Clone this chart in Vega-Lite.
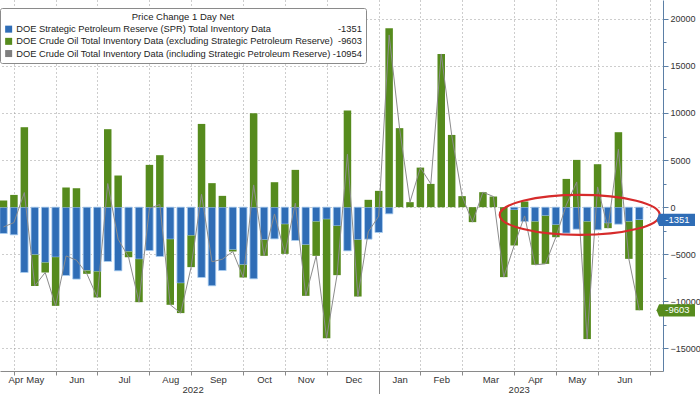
{
  "$schema": "https://vega.github.io/schema/vega-lite/v6.json",
  "width": 663,
  "height": 371,
  "autosize": {"type": "none"},
  "padding": {"left": 0, "top": 0, "right": 37, "bottom": 23},
  "background": "white",
  "config": {"view": {"stroke": null}, "font": "Liberation Sans"},
  "datasets": {
    "weeks": [
      {"date": "2022-04-22", "spr": -2800, "crude": 700, "total": -2100},
      {"date": "2022-04-29", "spr": -2940, "crude": 1300, "total": -1640},
      {"date": "2022-05-06", "spr": -6940, "crude": 8490, "total": 1550},
      {"date": "2022-05-13", "spr": -5060, "crude": -3300, "total": -8360},
      {"date": "2022-05-20", "spr": -5880, "crude": -1060, "total": -6940},
      {"date": "2022-05-27", "spr": -5310, "crude": -5170, "total": -10480},
      {"date": "2022-06-03", "spr": -7260, "crude": 2080, "total": -5180},
      {"date": "2022-06-10", "spr": -7640, "crude": 2010, "total": -5630},
      {"date": "2022-06-17", "spr": -6730, "crude": -350, "total": -7080},
      {"date": "2022-06-24", "spr": -6830, "crude": -2760, "total": -9590},
      {"date": "2022-07-01", "spr": -5770, "crude": 8280, "total": 2510},
      {"date": "2022-07-08", "spr": -6760, "crude": 3360, "total": -3400},
      {"date": "2022-07-15", "spr": -4710, "crude": -600, "total": -5310},
      {"date": "2022-07-22", "spr": -5520, "crude": -4570, "total": -10090},
      {"date": "2022-07-29", "spr": -4610, "crude": 4490, "total": -120},
      {"date": "2022-08-05", "spr": -5240, "crude": 5520, "total": 280},
      {"date": "2022-08-12", "spr": -3400, "crude": -6970, "total": -10370},
      {"date": "2022-08-19", "spr": -8070, "crude": -3180, "total": -11250},
      {"date": "2022-08-26", "spr": -3010, "crude": -3360, "total": -6370},
      {"date": "2022-09-02", "spr": -7470, "crude": 8840, "total": 1370},
      {"date": "2022-09-09", "spr": -8350, "crude": 2550, "total": -5800},
      {"date": "2022-09-16", "spr": -6730, "crude": 1200, "total": -5530},
      {"date": "2022-09-23", "spr": -4530, "crude": -180, "total": -4710},
      {"date": "2022-09-30", "spr": -6120, "crude": -1350, "total": -7470},
      {"date": "2022-10-07", "spr": -7610, "crude": 9970, "total": 2360},
      {"date": "2022-10-14", "spr": -3470, "crude": -1700, "total": -5170},
      {"date": "2022-10-21", "spr": -3370, "crude": 2650, "total": -720},
      {"date": "2022-10-28", "spr": -1810, "crude": -3150, "total": -4960},
      {"date": "2022-11-04", "spr": -3540, "crude": 3960, "total": 420},
      {"date": "2022-11-11", "spr": -4000, "crude": -5420, "total": -9420},
      {"date": "2022-11-18", "spr": -1530, "crude": -3640, "total": -5170},
      {"date": "2022-11-25", "spr": -1280, "crude": -12630, "total": -13910},
      {"date": "2022-12-02", "spr": -1990, "crude": -5230, "total": -7220},
      {"date": "2022-12-09", "spr": -4640, "crude": 10260, "total": 5620},
      {"date": "2022-12-16", "spr": -3470, "crude": -6020, "total": -9490},
      {"date": "2022-12-23", "spr": -3400, "crude": 780, "total": -2620},
      {"date": "2022-12-30", "spr": -2690, "crude": 1730, "total": -960},
      {"date": "2023-01-06", "spr": -710, "crude": 19000, "total": 18290},
      {"date": "2023-01-13", "spr": 0, "crude": 8390, "total": 8390},
      {"date": "2023-01-20", "spr": 0, "crude": 530, "total": 530},
      {"date": "2023-01-27", "spr": 0, "crude": 4200, "total": 4200},
      {"date": "2023-02-03", "spr": 0, "crude": 2470, "total": 2470},
      {"date": "2023-02-10", "spr": 0, "crude": 16270, "total": 16270},
      {"date": "2023-02-17", "spr": 0, "crude": 7670, "total": 7670},
      {"date": "2023-02-24", "spr": 0, "crude": 1170, "total": 1170},
      {"date": "2023-03-03", "spr": 0, "crude": -1590, "total": -1590},
      {"date": "2023-03-10", "spr": 0, "crude": 1590, "total": 1590},
      {"date": "2023-03-17", "spr": 0, "crude": 1130, "total": 1130},
      {"date": "2023-03-24", "spr": 0, "crude": -7430, "total": -7430},
      {"date": "2023-03-31", "spr": -300, "crude": -3770, "total": -4070},
      {"date": "2023-04-07", "spr": -1530, "crude": 600, "total": -930},
      {"date": "2023-04-14", "spr": -1530, "crude": -4590, "total": -6120},
      {"date": "2023-04-21", "spr": -920, "crude": -5100, "total": -6020},
      {"date": "2023-04-28", "spr": -1880, "crude": -1310, "total": -3190},
      {"date": "2023-05-05", "spr": -2760, "crude": 3000, "total": 240},
      {"date": "2023-05-12", "spr": -2340, "crude": 5020, "total": 2680},
      {"date": "2023-05-19", "spr": -1530, "crude": -12480, "total": -14010},
      {"date": "2023-05-26", "spr": -2410, "crude": 4560, "total": 2150},
      {"date": "2023-06-02", "spr": -1700, "crude": -530, "total": -2230},
      {"date": "2023-06-09", "spr": -1810, "crude": 7960, "total": 6150},
      {"date": "2023-06-16", "spr": -1530, "crude": -3960, "total": -5490},
      {"date": "2023-06-23", "spr": -1351, "crude": -9603, "total": -10954}
    ],
    "tags": [
      {"date": "2023-07-18", "value": -1351, "label": "-1351", "series": "spr"},
      {"date": "2023-07-18", "value": -10954, "label": "-9603", "series": "crude"}
    ],
    "circle": [
      {"date": "2023-05-14", "value": -820}
    ]
  },
  "layer": [
    {
      "data": {"name": "weeks"},
      "transform": [{"fold": ["spr", "crude"], "as": ["series", "value"]}],
      "mark": {"type": "bar", "size": 7.5, "clip": true, "strokeWidth": 0.8},
      "encoding": {
        "x": {
          "field": "date", "type": "temporal",
          "scale": {"type": "utc", "domain": [{"year": 2022, "month": 4, "date": 23, "utc": true}, {"year": 2023, "month": 7, "date": 5, "hours": 14, "utc": true}]},
          "axis": {
            "orient": "bottom", "title": null, "labels": false,
            "values": [
              {"year": 2022, "month": 4, "date": 29, "utc": true},
              {"year": 2022, "month": 5, "date": 27, "utc": true},
              {"year": 2022, "month": 6, "date": 24, "utc": true},
              {"year": 2022, "month": 7, "date": 29, "utc": true},
              {"year": 2022, "month": 8, "date": 26, "utc": true},
              {"year": 2022, "month": 9, "date": 30, "utc": true},
              {"year": 2022, "month": 10, "date": 28, "utc": true},
              {"year": 2022, "month": 11, "date": 25, "utc": true},
              {"year": 2022, "month": 12, "date": 30, "utc": true},
              {"year": 2023, "month": 1, "date": 27, "utc": true},
              {"year": 2023, "month": 2, "date": 24, "utc": true},
              {"year": 2023, "month": 3, "date": 31, "utc": true},
              {"year": 2023, "month": 4, "date": 28, "utc": true},
              {"year": 2023, "month": 5, "date": 26, "utc": true},
              {"year": 2023, "month": 6, "date": 30, "utc": true}
            ],
            "grid": true, "gridDash": [1, 3], "gridColor": "#9a9a9a", "gridWidth": 1,
            "ticks": true,
            "tickSize": {"condition": {"test": "utcmonth(datum.value) == 11", "value": 23}, "value": 4},
            "tickColor": "#8a8a8a", "domain": true, "domainColor": "#8a8a8a"
          }
        },
        "y": {
          "field": "value", "type": "quantitative", "stack": "zero",
          "scale": {"domain": [-17400, 22000], "nice": false, "zero": false},
          "axis": {
            "orient": "right", "title": null, "format": "d",
            "values": [-15000, -10000, -5000, 0, 5000, 10000, 15000, 20000],
            "grid": true, "gridDash": [1, 3], "gridColor": "#9a9a9a", "gridWidth": 1,
            "tickSize": 5, "tickColor": "#5b7fa6", "domainColor": "#5b7fa6",
            "labelPadding": 2, "labelFontSize": 9, "labelColor": "#333", "labelFlush": false
          }
        },
        "color": {
          "field": "series", "type": "nominal",
          "scale": {"domain": ["spr", "crude", "total"], "range": ["#2f6db6", "#568b1d", "#7f7f7f"]},
          "legend": {
            "orient": "none", "legendX": 0, "legendY": 8,
            "title": "Price Change 1 Day Net", "titleFontSize": 9.5, "titleFontWeight": "normal",
            "titleAnchor": "middle", "titleColor": "#222", "titlePadding": 3,
            "fillColor": "white", "strokeColor": "#8a8a8a", "padding": 4, "cornerRadius": 2,
            "symbolType": "square", "symbolSize": 49, "symbolStrokeWidth": 0,
            "labelFontSize": 9.3, "labelColor": "#222", "labelLimit": 600, "labelOffset": 3,
            "rowPadding": 2.2,
            "labelExpr": "datum.label == 'spr' ? 'DOE Strategic Petroleum Reserve (SPR) Total Inventory Data\u00a0\u00a0\u00a0\u00a0\u00a0\u00a0\u00a0\u00a0\u00a0\u00a0\u00a0\u00a0\u00a0\u00a0\u00a0\u00a0\u00a0\u00a0\u00a0\u00a0\u00a0\u00a0\u00a0\u00a0\u00a0\u00a0-1351' : datum.label == 'crude' ? 'DOE Crude Oil Total Inventory Data (excluding Strategic Petroleum Reserve)\u00a0\u00a0-9603' : 'DOE Crude Oil Total Inventory Data (including Strategic Petroleum Reserve)\u00a0-10954'"
          }
        },
        "order": {"field": "series", "sort": "descending"},
        "stroke": {"condition": {"test": "datum.series == 'spr' && datum.value != 0", "value": "#a9cdf0"}, "value": null}
      }
    },
    {
      "data": {"name": "weeks"},
      "mark": {"type": "line", "color": "#8c8c8c", "strokeWidth": 1, "clip": true},
      "encoding": {
        "x": {
          "field": "date", "type": "temporal",
          "scale": {"type": "utc", "domain": [{"year": 2022, "month": 4, "date": 23, "utc": true}, {"year": 2023, "month": 7, "date": 5, "hours": 14, "utc": true}]},
          "axis": {
            "orient": "bottom", "title": null, "format": "%b",
            "values": [
              {"year": 2022, "month": 4, "date": 30, "utc": true},
              {"year": 2022, "month": 5, "date": 13, "utc": true},
              {"year": 2022, "month": 6, "date": 10, "utc": true},
              {"year": 2022, "month": 7, "date": 12, "utc": true},
              {"year": 2022, "month": 8, "date": 12, "utc": true},
              {"year": 2022, "month": 9, "date": 13, "utc": true},
              {"year": 2022, "month": 10, "date": 14, "utc": true},
              {"year": 2022, "month": 11, "date": 11, "utc": true},
              {"year": 2022, "month": 12, "date": 13, "utc": true},
              {"year": 2023, "month": 1, "date": 13, "utc": true},
              {"year": 2023, "month": 2, "date": 10, "utc": true},
              {"year": 2023, "month": 3, "date": 15, "utc": true},
              {"year": 2023, "month": 4, "date": 14, "utc": true},
              {"year": 2023, "month": 5, "date": 12, "utc": true},
              {"year": 2023, "month": 6, "date": 13, "utc": true}
            ],
            "grid": false, "ticks": false, "tickSize": 0, "domain": false,
            "labelPadding": 3, "labelFontSize": 9.5, "labelColor": "#333",
            "labelOverlap": false, "labelFlush": false
          }
        },
        "y": {
          "field": "total", "type": "quantitative",
          "scale": {"domain": [-17400, 22000], "nice": false, "zero": false},
          "axis": {
            "orient": "right", "title": null, "labels": false, "grid": false, "domain": false,
            "values": [-17500, -12500, -7500, -2500, 2500, 7500, 12500, 17500],
            "tickSize": 3, "tickColor": "#5b7fa6"
          }
        }
      }
    },
    {
      "data": {"name": "circle"},
      "mark": {"type": "point", "shape": "M -1 0 A 1 0.25 0 1 1 1 0 A 1 0.25 0 1 1 -1 0 Z", "size": 25600, "filled": false, "stroke": "#d62b2b", "strokeWidth": 2.2, "opacity": 1},
      "encoding": {
        "x": {
          "field": "date", "type": "temporal",
          "scale": {"type": "utc", "domain": [{"year": 2022, "month": 4, "date": 23, "utc": true}, {"year": 2023, "month": 7, "date": 5, "hours": 14, "utc": true}]},
          "axis": {
            "orient": "bottom", "title": null, "format": "%Y",
            "values": [{"year": 2022, "month": 8, "date": 27, "utc": true}, {"year": 2023, "month": 4, "date": 3, "utc": true}],
            "grid": false, "ticks": false, "tickSize": 0, "domain": false,
            "labelPadding": 13, "labelFontSize": 9.5, "labelColor": "#333",
            "labelOverlap": false, "labelFlush": false
          }
        },
        "y": {
          "field": "value", "type": "quantitative",
          "scale": {"domain": [-17400, 22000], "nice": false, "zero": false},
          "axis": null
        }
      }
    },
    {
      "data": {"name": "tags"},
      "mark": {"type": "point", "shape": "M -1.08 0 L -0.94 -0.33 L 1 -0.33 L 1 0.33 L -0.94 0.33 Z", "size": 1369, "filled": true, "opacity": 1, "strokeWidth": 0},
      "encoding": {
        "x": {
          "field": "date", "type": "temporal",
          "scale": {"type": "utc", "domain": [{"year": 2022, "month": 4, "date": 23, "utc": true}, {"year": 2023, "month": 7, "date": 5, "hours": 14, "utc": true}]},
          "axis": null
        },
        "y": {
          "field": "value", "type": "quantitative",
          "scale": {"domain": [-17400, 22000], "nice": false, "zero": false},
          "axis": null
        },
        "fill": {"condition": {"test": "datum.series == 'spr'", "value": "#2f6db6"}, "value": "#568b1d"}
      }
    },
    {
      "data": {"name": "tags"},
      "mark": {"type": "text", "color": "white", "fontSize": 9.5, "align": "center", "baseline": "middle", "dx": 1},
      "encoding": {
        "x": {
          "field": "date", "type": "temporal",
          "scale": {"type": "utc", "domain": [{"year": 2022, "month": 4, "date": 23, "utc": true}, {"year": 2023, "month": 7, "date": 5, "hours": 14, "utc": true}]},
          "axis": null
        },
        "y": {
          "field": "value", "type": "quantitative",
          "scale": {"domain": [-17400, 22000], "nice": false, "zero": false},
          "axis": null
        },
        "text": {"field": "label"}
      }
    }
  ],
  "resolve": {"axis": {"x": "independent", "y": "independent"}}
}
